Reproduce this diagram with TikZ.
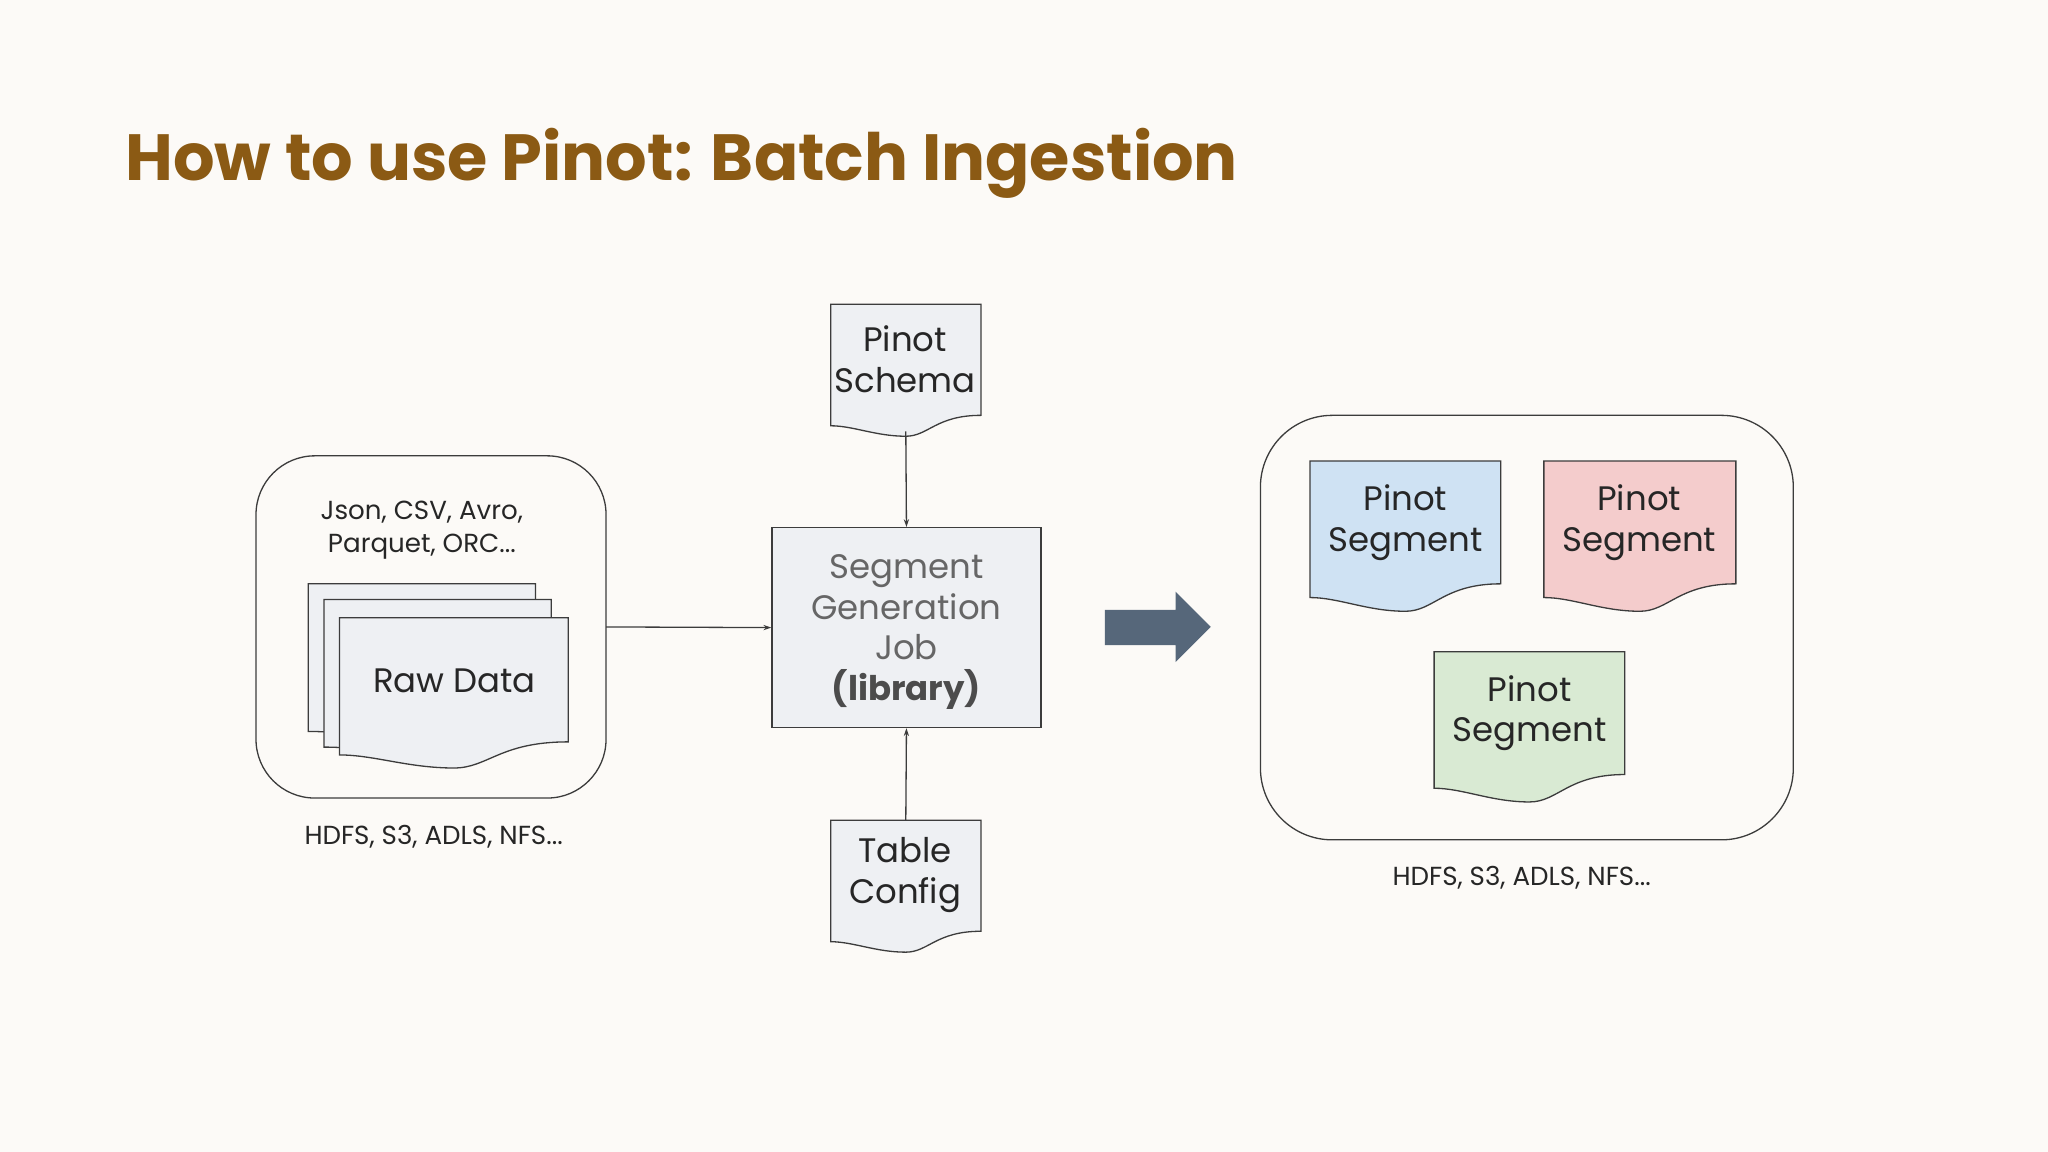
\documentclass[tikz,border=0pt]{standalone}
\usepackage{fontspec}
\setmainfont{Poppins}
\usetikzlibrary{arrows.meta}
\definecolor{bg}{RGB}{252,250,247}
\definecolor{ttl}{RGB}{139,90,20}
\definecolor{docf}{RGB}{238,240,243}
\definecolor{ln}{RGB}{60,60,60}
\definecolor{segb}{RGB}{207,226,243}
\definecolor{segr}{RGB}{244,204,204}
\definecolor{segg}{RGB}{217,234,211}
\definecolor{big}{RGB}{86,103,122}
\newcommand\mydoc[6]{% fill, x1,y1,x2,y2,a
  \draw[ln,line width=1pt,fill=#1] (#2,#3) -- (#4,#3) -- (#4,#5)
   .. controls ({#2+0.7*(#4-#2)},#5) and ({#2+0.65*(#4-#2)},{#5+#6}) .. ({#2+0.5*(#4-#2)},{#5+#6})
   .. controls ({#2+0.3*(#4-#2)},{#5+#6}) and ({#2+0.15*(#4-#2)},{#5+0.5*#6}) .. (#2,{#5+0.5*#6}) -- cycle;}
\tikzset{lbl/.style={font=\fontsize{26}{31}\selectfont,align=center,text=black!85},
 sm/.style={font=\fontsize{20}{25}\selectfont,align=center,text=black!85},
 box/.style={draw=ln,line width=1pt,rounded corners=45pt},
 con/.style={draw=ln,line width=1pt,-{Stealth[length=6pt,width=4pt]}}}
\begin{document}
\begin{tikzpicture}[x=1pt,y=-1pt]
\fill[bg] (0,0) rectangle (1568,882);
\node[anchor=base west,font=\fontsize{50}{60}\selectfont\bfseries,text=ttl,inner sep=0] (title) at (96,138) {How to use Pinot: Batch Ingestion};
% left store
\draw[box] (196,349) rectangle (464,611);
\node[sm] (fmt) at (323,406) {Json, CSV, Avro,\\Parquet, ORC...};
\mydoc{docf}{236}{447}{410}{555}{10}
\mydoc{docf}{248}{459}{422}{567}{10}
\mydoc{docf}{260}{473}{435}{568}{20}
\node[lbl] (raw) at (348,521) {Raw Data};
\node[sm] (hl) at (332,641) {HDFS, S3, ADLS, NFS...};
\coordinate (lout) at (464,480);
% center
\node[draw=ln,line width=1pt,fill=docf,minimum width=206pt,minimum height=153pt,inner sep=0] (job) at (694,480.5) {};
\node[lbl,text=black!60] (jobt) at (694,465) {Segment\\Generation\\Job};
\node[font=\fontsize{26}{31}\selectfont\bfseries,text=black!70] (lib) at (694,528) {(library)};
\draw[con] (lout) -- (job.west);
\mydoc{docf}{636}{233}{751}{318}{16}
\node[lbl,inner sep=0,minimum width=115pt,minimum height=97pt] (schema) at (693.5,281.5) {};
\node[lbl] (schemat) at (693,275) {Pinot\\Schema};
\mydoc{docf}{636}{628}{751}{713}{16}
\node[lbl,inner sep=0,minimum width=115pt,minimum height=97pt] (cfg) at (693.5,676.5) {};
\node[lbl] (cfgt) at (693,670) {Table\\Config};
\draw[con] (schema.south) -- (job.north);
\draw[con] (cfg.north) -- (job.south);
% big arrow
\fill[big] (846,467) -- (900,467) -- (900,453) -- (927,480) -- (900,507) -- (900,494) -- (846,494) -- cycle;
% right store
\draw[box,rounded corners=55pt] (965,318) rectangle (1373,643);
\mydoc{segb}{1003}{353}{1149}{447}{21}
\node[lbl] (s1) at (1076,400) {Pinot\\Segment};
\mydoc{segr}{1182}{353}{1329}{447}{21}
\node[lbl] (s2) at (1255,400) {Pinot\\Segment};
\mydoc{segg}{1098}{499}{1244}{593}{21}
\node[lbl] (s3) at (1171,546) {Pinot\\Segment};
\node[sm] (hr) at (1165,672) {HDFS, S3, ADLS, NFS...};
\end{tikzpicture}
\end{document}
